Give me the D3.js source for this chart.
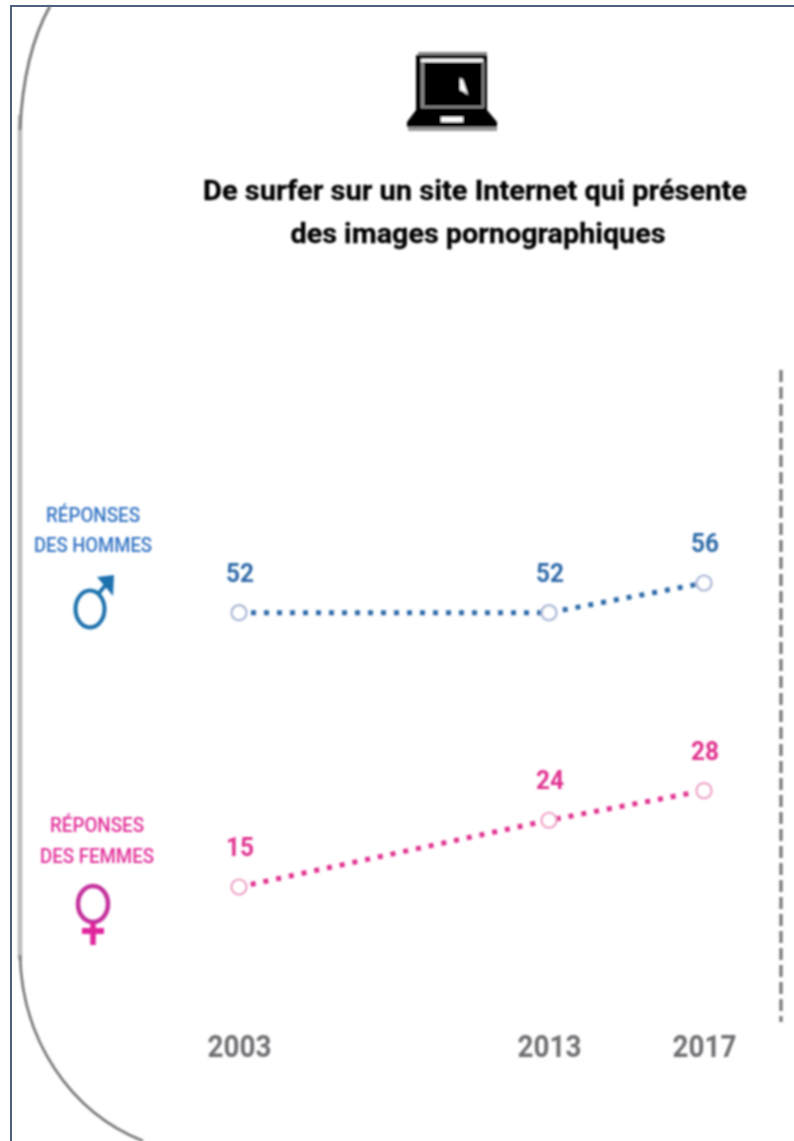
<!DOCTYPE html>
<html><head><meta charset="utf-8">
<script src="https://cdn.jsdelivr.net/npm/d3@7"></script>
<style>html,body{margin:0;padding:0;background:#fff}svg{display:block}</style></head>
<body><svg id="c" width="794" height="1141"></svg>
<script>
const years = [2003, 2013, 2017];
const yearLabels = ["2003", "2013", "2017"];
const hommes = [52, 52, 56];
const femmes = [15, 24, 28];
const titleLines = ["De surfer sur un site Internet qui présente", "des images pornographiques"];
const labelHommes = ["RÉPONSES", "DES HOMMES"];
const labelFemmes = ["RÉPONSES", "DES FEMMES"];

const svg = d3.select("#c");
const defs = svg.append("defs");
defs.append("filter").attr("id","soft").attr("filterUnits","userSpaceOnUse")
  .attr("x",0).attr("y",0).attr("width",794).attr("height",1141)
  .append("feGaussianBlur").attr("stdDeviation",0.8);
svg.append("rect").attr("width",794).attr("height",1141).attr("fill","#fff");
const root = svg.append("g").attr("filter","url(#soft)");
const narrow = "'Liberation Sans Narrow','Roboto','Open Sans',sans-serif";

const x = d3.scaleLinear().domain([2003,2013,2017]).range([239,549,704]);
const y = d3.scaleLinear().domain([15,56]).range([887,583]);

// frame (kept sharp)
svg.append("path").attr("d","M11,1141V6H794").attr("fill","none").attr("stroke","#4f6080").attr("stroke-width",2);
// rounded panel
root.append("path").attr("d","M20,115L20,960").attr("fill","none").attr("stroke","#bcbcbc").attr("stroke-width",4.5);
root.append("path").attr("d","M50,6C31,40 22,85 20,130").attr("fill","none").attr("stroke","#787878").attr("stroke-width",2.8);
root.append("path").attr("d","M20,955C22,1040 70,1112 143,1141").attr("fill","none").attr("stroke","#747474").attr("stroke-width",2.6);
// right dashed
root.append("line").attr("x1",781).attr("x2",781).attr("y1",370).attr("y2",1022)
  .attr("stroke","#747474").attr("stroke-width",3.2).attr("stroke-dasharray","12 5");

// laptop icon
const ic = root.append("g");
ic.append("rect").attr("x",418).attr("y",52).attr("width",69).attr("height",3).attr("fill","#888");
ic.append("rect").attr("x",416).attr("y",55).attr("width",71).attr("height",56).attr("fill","#000");
ic.append("rect").attr("x",421).attr("y",59).attr("width",62).attr("height",49).attr("fill","#fff");
ic.append("path").attr("d","M421,62H424V105H482V108H421ZM482,62H484V108H482Z").attr("fill","#8a8a8a");
ic.append("rect").attr("x",424).attr("y",62).attr("width",58).attr("height",44).attr("fill","#000");
ic.append("path").attr("d","M460,78L463,80L468,95L464,92L460,90Z").attr("fill","#fff");
ic.append("path").attr("d","M416,110H487L497,122V127H407V122Z").attr("fill","#000");
ic.append("rect").attr("x",441).attr("y",117).attr("width",22).attr("height",5).attr("fill","#fff");
ic.append("rect").attr("x",408).attr("y",127).attr("width",89).attr("height",4).attr("fill","#999");

// title
const tw = [[475,200,544],[478,243,375]];
root.selectAll("text.title").data(titleLines).join("text").attr("class","title")
  .attr("x",(d,i)=>tw[i][0]).attr("y",(d,i)=>tw[i][1])
  .attr("text-anchor","middle").attr("font-family",narrow).attr("font-weight",700)
  .attr("font-size",28).attr("fill","#000").attr("stroke","#000").attr("stroke-width",0.3)
  .attr("textLength",(d,i)=>tw[i][2]).attr("lengthAdjust","spacingAndGlyphs").text(d=>d);

// side labels
function side(lines, ys, ws, cx, col){
  root.selectAll(null).data(lines).join("text")
    .attr("x",(d,i)=>cx[i]).attr("y",(d,i)=>ys[i]).attr("text-anchor","middle")
    .attr("font-family",narrow).attr("font-weight",500).attr("font-size",20).attr("fill",col)
    .attr("textLength",(d,i)=>ws[i]).attr("lengthAdjust","spacingAndGlyphs").text(d=>d);
}
side(labelHommes,[522,552],[94,118],[93,93],"#3474c4");
side(labelFemmes,[832,863],[94,114],[97,97],"#e2309a");

// gender symbols
const m = root.append("g").attr("fill","none").attr("stroke","#1d71ad").attr("stroke-width",4);
m.append("ellipse").attr("cx",90).attr("cy",609).attr("rx",14.5).attr("ry",18.5);
m.append("line").attr("x1",99).attr("y1",593).attr("x2",109).attr("y2",581);
root.append("path").attr("d","M97,577L114,575L113,596Z").attr("fill","#1d71ad");
const f = root.append("g").attr("fill","none").attr("stroke","#c4309c").attr("stroke-width",4.5);
f.append("ellipse").attr("cx",93).attr("cy",904).attr("rx",15).attr("ry",18);
f.append("line").attr("x1",93).attr("y1",923).attr("x2",93).attr("y2",945).attr("stroke","#e0289c").attr("stroke-width",5.5);
f.append("line").attr("x1",82).attr("y1",931).attr("x2",104).attr("y2",931).attr("stroke","#e0289c").attr("stroke-width",6);

// series
function series(vals, col, mk){
  const data = vals.map((v,i)=>({yr:years[i],v}));
  root.append("path").datum(data).attr("fill","none").attr("stroke",col).attr("stroke-width",5)
    .attr("stroke-dasharray","5 8").attr("stroke-dashoffset",-12)
    .attr("d",d3.line().x(d=>x(d.yr)).y(d=>y(d.v)));
  root.selectAll(null).data(data).join("circle")
    .attr("cx",d=>x(d.yr)).attr("cy",d=>y(d.v)).attr("r",7.5).attr("fill","#fff")
    .attr("stroke",mk).attr("stroke-width",2.2);
  root.selectAll(null).data(data).join("text")
    .attr("x",d=>x(d.yr)+1).attr("y",d=>y(d.v)-31).attr("text-anchor","middle")
    .attr("font-family",narrow).attr("font-weight",700).attr("font-size",25).attr("fill",col)
    .attr("textLength",28).attr("lengthAdjust","spacingAndGlyphs").text(d=>d.v);
}
series(hommes,"#2f6aa8","#a4b4d4");
series(femmes,"#e0308f","#ee9cc6");

// x axis
const ax = d3.axisBottom(x).tickValues(years).tickFormat((d,i)=>yearLabels[i]).tickSize(0);
const gx = root.append("g").attr("transform","translate(0,1030)").call(ax);
gx.select(".domain").remove();
gx.selectAll("text").attr("y",0).attr("dy",27).attr("font-family",narrow).attr("font-weight",700)
  .attr("font-size",31).attr("fill","#6f6f73").attr("textLength",64).attr("lengthAdjust","spacingAndGlyphs");
</script></body></html>
